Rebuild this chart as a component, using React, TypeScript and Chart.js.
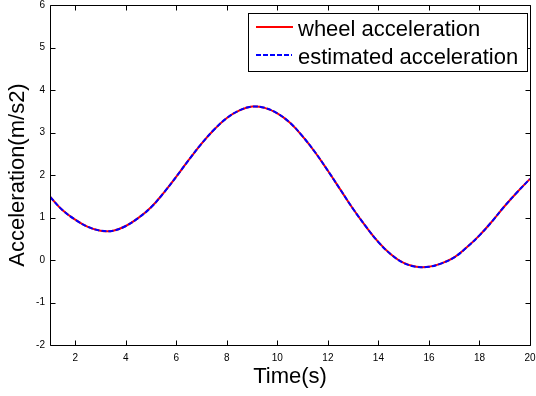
import React, { useEffect, useRef } from "react";
import { Chart, registerables } from "chart.js";

Chart.register(...registerables);

const timeValues = [1, 1.5, 2, 2.5, 3, 3.5, 4, 4.5, 5, 5.5, 6, 6.5, 7, 7.5, 8, 8.5, 9, 9.5, 10, 10.5, 11, 11.5, 12, 12.5, 13, 13.5, 14, 14.5, 15, 15.5, 16, 16.5, 17, 17.5, 18, 18.5, 19, 19.5, 20];
const wheelAcceleration = [1.49, 1.17, 0.95, 0.78, 0.69, 0.69, 0.8, 0.99, 1.24, 1.58, 1.96, 2.36, 2.74, 3.07, 3.34, 3.52, 3.61, 3.58, 3.45, 3.23, 2.91, 2.53, 2.1, 1.65, 1.2, 0.79, 0.42, 0.13, -0.07, -0.16, -0.16, -0.08, 0.06, 0.3, 0.58, 0.91, 1.27, 1.6, 1.91];
const estimatedAcceleration = [1.49, 1.17, 0.95, 0.78, 0.69, 0.69, 0.8, 0.99, 1.24, 1.58, 1.96, 2.36, 2.74, 3.07, 3.34, 3.52, 3.61, 3.58, 3.45, 3.23, 2.91, 2.53, 2.1, 1.65, 1.2, 0.79, 0.42, 0.13, -0.07, -0.16, -0.16, -0.08, 0.06, 0.3, 0.58, 0.91, 1.27, 1.6, 1.91];
const xTicks = [2, 4, 6, 8, 10, 12, 14, 16, 18, 20];
const yTicks = [-2, -1, 0, 1, 2, 3, 4, 5, 6];
const seriesLabels = ["wheel acceleration", "estimated acceleration"];
const xTitle = "Time(s)";
const yTitle = "Acceleration(m/s2)";

const FONT = "'Liberation Sans', Arial, sans-serif";

const matlabPlugin = {
  id: "matlabFrame",
  afterDatasetsDraw(chart: any) {
    const { ctx, chartArea } = chart;
    const xs = chart.scales.x;
    const ys = chart.scales.y;
    const L = Math.round(chartArea.left) + 0.5;
    const R = Math.round(chartArea.right) + 0.5;
    const T = Math.round(chartArea.top) + 0.5;
    const B = Math.round(chartArea.bottom) + 0.5;
    const tl = 5;
    ctx.save();
    ctx.strokeStyle = "#000";
    ctx.lineWidth = 1;
    ctx.setLineDash([]);
    ctx.beginPath();
    ctx.rect(L, T, R - L, B - T);
    for (const v of xTicks) {
      const px = Math.round(xs.getPixelForValue(v)) + 0.5;
      ctx.moveTo(px, B);
      ctx.lineTo(px, B - tl);
      ctx.moveTo(px, T);
      ctx.lineTo(px, T + tl);
    }
    for (const v of yTicks) {
      const py = Math.round(ys.getPixelForValue(v)) + 0.5;
      ctx.moveTo(L, py);
      ctx.lineTo(L + tl, py);
      ctx.moveTo(R, py);
      ctx.lineTo(R - tl, py);
    }
    ctx.stroke();

    // legend box
    const bx = 248.5, by = 13.5, bw = 279, bh = 58;
    ctx.fillStyle = "#fff";
    ctx.fillRect(bx, by, bw, bh);
    ctx.strokeRect(bx, by, bw, bh);
    ctx.font = `22px ${FONT}`;
    ctx.textBaseline = "alphabetic";
    ctx.textAlign = "left";
    ctx.fillStyle = "#000";
    ctx.strokeStyle = "#ff0000";
    ctx.lineWidth = 2;
    ctx.beginPath();
    ctx.moveTo(256, 27);
    ctx.lineTo(293, 27);
    ctx.stroke();
    ctx.fillText(seriesLabels[0], 298, 36);
    ctx.strokeStyle = "#0000ff";
    ctx.setLineDash([5, 2]);
    ctx.beginPath();
    ctx.moveTo(256, 55);
    ctx.lineTo(292, 55);
    ctx.stroke();
    ctx.setLineDash([]);
    ctx.fillText(seriesLabels[1], 298, 64);
    ctx.restore();
  },
};

export default function App() {
  const ref = useRef<HTMLCanvasElement | null>(null);
  useEffect(() => {
    document.body.style.margin = "0";
    const canvas = ref.current;
    if (!canvas) return;
    const chart = new Chart(canvas, {
      type: "line",
      data: {
        datasets: [
          {
            label: seriesLabels[0],
            data: timeValues.map((t, i) => ({ x: t, y: wheelAcceleration[i] })),
            borderColor: "#ff0000",
            borderWidth: 2,
            pointRadius: 0,
            tension: 0.4,
            fill: false,
            order: 1,
          },
          {
            label: seriesLabels[1],
            data: timeValues.map((t, i) => ({ x: t, y: estimatedAcceleration[i] })),
            borderColor: "#0000ff",
            borderWidth: 2,
            borderDash: [5, 2],
            pointRadius: 0,
            tension: 0.4,
            fill: false,
            order: 0,
          },
        ],
      },
      options: {
        animation: false,
        responsive: false,
        devicePixelRatio: 1,
        layout: { padding: { top: 5, right: 6, left: 0, bottom: 0 } },
        plugins: { legend: { display: false }, tooltip: { enabled: false } },
        scales: {
          x: {
            type: "linear",
            min: 1,
            max: 20,
            afterBuildTicks: (s: any) => {
              s.ticks = xTicks.map((v) => ({ value: v }));
            },
            afterFit: (s: any) => {
              s.height = 51;
              s.paddingLeft = 0;
              s.paddingRight = 0;
            },
            grid: { display: false, drawTicks: false },
            border: { display: false },
            ticks: {
              color: "#000",
              font: { family: FONT, size: 10, lineHeight: 1 },
              padding: 8,
              maxRotation: 0,
              autoSkip: false,
            },
            title: {
              display: true,
              text: xTitle,
              color: "#000",
              font: { family: FONT, size: 22 },
              padding: { top: 0, bottom: 6 },
            },
          },
          y: {
            type: "linear",
            min: -2,
            max: 6,
            afterBuildTicks: (s: any) => {
              s.ticks = yTicks.map((v) => ({ value: v }));
            },
            afterFit: (s: any) => {
              s.width = 50;
              s.paddingTop = 0;
              s.paddingBottom = 0;
            },
            grid: { display: false, drawTicks: false },
            border: { display: false },
            ticks: {
              color: "#000",
              font: { family: FONT, size: 10, lineHeight: 1 },
              padding: 5,
              autoSkip: false,
            },
            title: {
              display: true,
              text: yTitle,
              color: "#000",
              font: { family: FONT, size: 22 },
              padding: { top: 5, bottom: 0 },
            },
          },
        },
      },
      plugins: [matlabPlugin],
    });
    return () => chart.destroy();
  }, []);
  return (
    <div style={{ width: 536, height: 396, position: "relative" }}>
      <canvas ref={ref} width={536} height={396} style={{ display: "block" }} />
    </div>
  );
}
